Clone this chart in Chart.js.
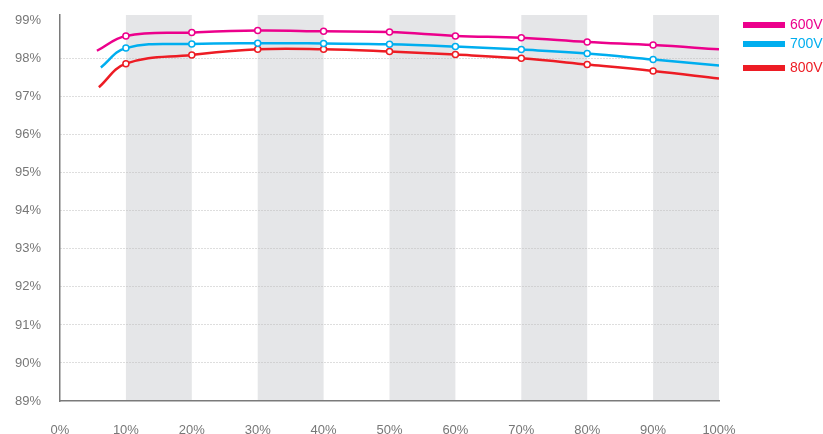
<!DOCTYPE html>
<html>
<head>
<meta charset="utf-8">
<script src="https://cdn.jsdelivr.net/npm/chart.js@4"></script>
<style>
  body { margin: 0; background: #fff; font-family: "Liberation Sans", Arial, sans-serif; }
  #wrap { position: relative; width: 823px; height: 434px; }
  #legend { position: absolute; left: 743px; top: 0; }
  .item { position: absolute; left: 0; white-space: nowrap; font-size: 14px; line-height: 16px; }
  .item span.bar { position: absolute; left: 0; width: 42px; height: 6px; }
  .item span.txt { position: absolute; left: 47px; top: -6px; }
</style>
</head>
<body>
<div id="wrap">
  <canvas id="effChart" width="823" height="434"></canvas>
  <div id="legend"></div>
</div>
<script>
// load (%) and efficiency (%)
const load600 = [5.6, 10, 20, 30, 40, 50, 60, 70, 80, 90, 100];
const eff600  = [98.21, 98.60, 98.69, 98.74, 98.72, 98.70, 98.60, 98.55, 98.44, 98.36, 98.25];
const load700 = [6.2, 10, 20, 30, 40, 50, 60, 70, 80, 90, 100];
const eff700  = [97.77, 98.28, 98.39, 98.41, 98.40, 98.38, 98.32, 98.24, 98.14, 97.98, 97.82];
const load800 = [5.9, 10, 20, 30, 40, 50, 60, 70, 80, 90, 100];
const eff800  = [97.25, 97.87, 98.10, 98.25, 98.25, 98.19, 98.11, 98.01, 97.85, 97.68, 97.48];

const seriesNames = ['600V', '700V', '800V'];
const seriesColors = ['#ec008c', '#00aeef', '#ed1c24'];
const bands = [[10, 20], [30, 40], [50, 60], [70, 80], [90, 100]];
const yTicks = [89, 90, 91, 92, 93, 94, 95, 96, 97, 98, 99];

function toPoints(xs, ys) {
  return xs.map((x, i) => ({ x: x, y: ys[i] }));
}
// no marker on the first and last point of each curve
function radii(n) {
  return Array.from({ length: n }, (_, i) => (i === 0 || i === n - 1) ? 0 : 3);
}

const curves = [toPoints(load600, eff600), toPoints(load700, eff700), toPoints(load800, eff800)];

const bandPlugin = {
  id: 'bands',
  beforeDraw(chart) {
    const { ctx, chartArea, scales } = chart;
    ctx.save();
    ctx.fillStyle = '#e5e6e8';
    bands.forEach(b => {
      const x1 = scales.x.getPixelForValue(b[0]);
      const x2 = scales.x.getPixelForValue(b[1]);
      ctx.fillRect(x1, chartArea.top, x2 - x1, chartArea.bottom - chartArea.top);
    });
    ctx.restore();
  }
};

const chart = new Chart(document.getElementById('effChart'), {
  type: 'line',
  data: {
    datasets: curves.map((pts, i) => ({
      label: seriesNames[i],
      data: pts,
      borderColor: seriesColors[i],
      borderWidth: 2.5,
      pointRadius: radii(pts.length),
      pointBackgroundColor: '#fff',
      pointBorderColor: seriesColors[i],
      pointBorderWidth: 1.5,
      tension: 0.4,
      fill: false
    }))
  },
  options: {
    responsive: false,
    animation: false,
    layout: { padding: { top: 15, right: 104, left: 0, bottom: 0 } },
    plugins: { legend: { display: false }, tooltip: { enabled: false } },
    scales: {
      x: {
        type: 'linear',
        min: 0,
        max: 100,
        afterFit: s => { s.height = 33; },
        grid: { display: false },
        border: { color: '#7a7a7a', width: 1.5 },
        ticks: {
          stepSize: 10,
          padding: 14,
          color: '#777',
          font: { family: 'Liberation Sans', size: 13 },
          callback: v => v + '%'
        }
      },
      y: {
        min: 89,
        max: 99.15,
        afterFit: s => { s.width = 60; s.paddingTop = 0; s.paddingBottom = 0; },
        afterBuildTicks: s => { s.ticks = yTicks.map(v => ({ value: v })); },
        grid: {
          drawTicks: false,
          color: c => (c.tick && (c.tick.value === 99 || c.tick.value === 89)) ? 'rgba(0,0,0,0)' : '#bdbdbd',
          lineWidth: 1
        },
        border: { color: '#7a7a7a', width: 1.5, dash: [1, 2] },
        ticks: {
          padding: 19,
          color: '#777',
          font: { family: 'Liberation Sans', size: 13 },
          callback: v => v + '%'
        }
      }
    }
  },
  plugins: [bandPlugin]
});

// legend on the right, built from the datasets
const legendTops = [22, 41, 65];
const legend = document.getElementById('legend');
chart.data.datasets.forEach((ds, i) => {
  const item = document.createElement('div');
  item.className = 'item';
  item.style.top = legendTops[i] + 'px';
  item.innerHTML = '<span class="bar" style="background:' + ds.borderColor + '"></span>' +
    '<span class="txt" style="color:' + ds.borderColor + '">' + ds.label + '</span>';
  legend.appendChild(item);
});
</script>
</body>
</html>
